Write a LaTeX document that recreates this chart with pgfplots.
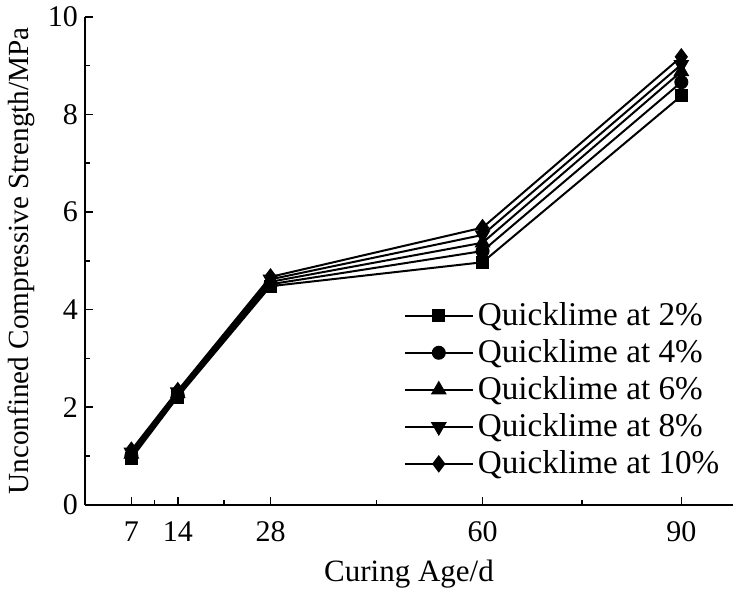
\documentclass[border=0pt]{standalone}
\usepackage{fontspec}
\setmainfont{Liberation Serif}
\usepackage{pgfplots}
\pgfplotsset{compat=1.18}

\begin{document}
\begin{tikzpicture}
\begin{axis}[
    scale only axis,
    width=324pt,
    height=244pt,
    xmin=0, xmax=97.8,
    ymin=0, ymax=10,
    axis lines=left,
    axis line style={line width=1pt, -},
    xtick={7,14,28,60,90},
    minor xtick={10.5,21,44,75},
    ytick={0,2,4,6,8,10},
    minor ytick={1,3,5,7,9},
    tick align=inside,
    major tick length=4pt,
    minor tick length=2.5pt,
    every tick/.style={line width=0.8pt, black},
    tick label style={font=\fontsize{15}{18}\selectfont},
    /pgf/number format/assume math mode=true,
    xticklabel style={yshift=-5pt},
    xlabel={Curing Age/d},
    ylabel={Unconfined Compressive Strength/MPa},
    xlabel style={font=\fontsize{15.5}{18}\selectfont, yshift=-2pt},
    ylabel style={font=\fontsize{14.6}{18}\selectfont, inner sep=4pt, yshift=-1pt},
    legend cell align=left,
    legend style={at={(0.995,0.04)}, anchor=south east, draw=none, fill=none,
        font=\fontsize{16.6}{19}\selectfont, row sep=1.5pt},
    legend image code/.code={
        \draw[mark repeat=2, mark phase=2, #1]
        plot coordinates {(0pt,0pt) (17pt,0pt) (34pt,0pt)};
    },
    every axis plot/.append style={line width=1pt, black, mark options={solid, fill=black}},
]
\addplot[mark=square*, mark size=2.8pt] coordinates {(7,0.95) (14,2.21) (28,4.48) (60,4.97) (90,8.38)};
\addplot[mark=*, mark size=3pt] coordinates {(7,1.00) (14,2.24) (28,4.52) (60,5.20) (90,8.66)};
\addplot[mark=triangle*, mark size=3.6pt] coordinates {(7,1.04) (14,2.28) (28,4.57) (60,5.37) (90,8.88)};
\addplot[mark=triangle*, mark size=3.6pt, mark options={rotate=180}] coordinates {(7,1.08) (14,2.31) (28,4.62) (60,5.53) (90,9.02)};
\addplot[mark=diamond*, mark size=3.6pt] coordinates {(7,1.12) (14,2.34) (28,4.67) (60,5.68) (90,9.18)};
\legend{Quicklime at 2\%, Quicklime at 4\%, Quicklime at 6\%, Quicklime at 8\%, Quicklime at 10\%}
\end{axis}
\end{tikzpicture}
\end{document}
